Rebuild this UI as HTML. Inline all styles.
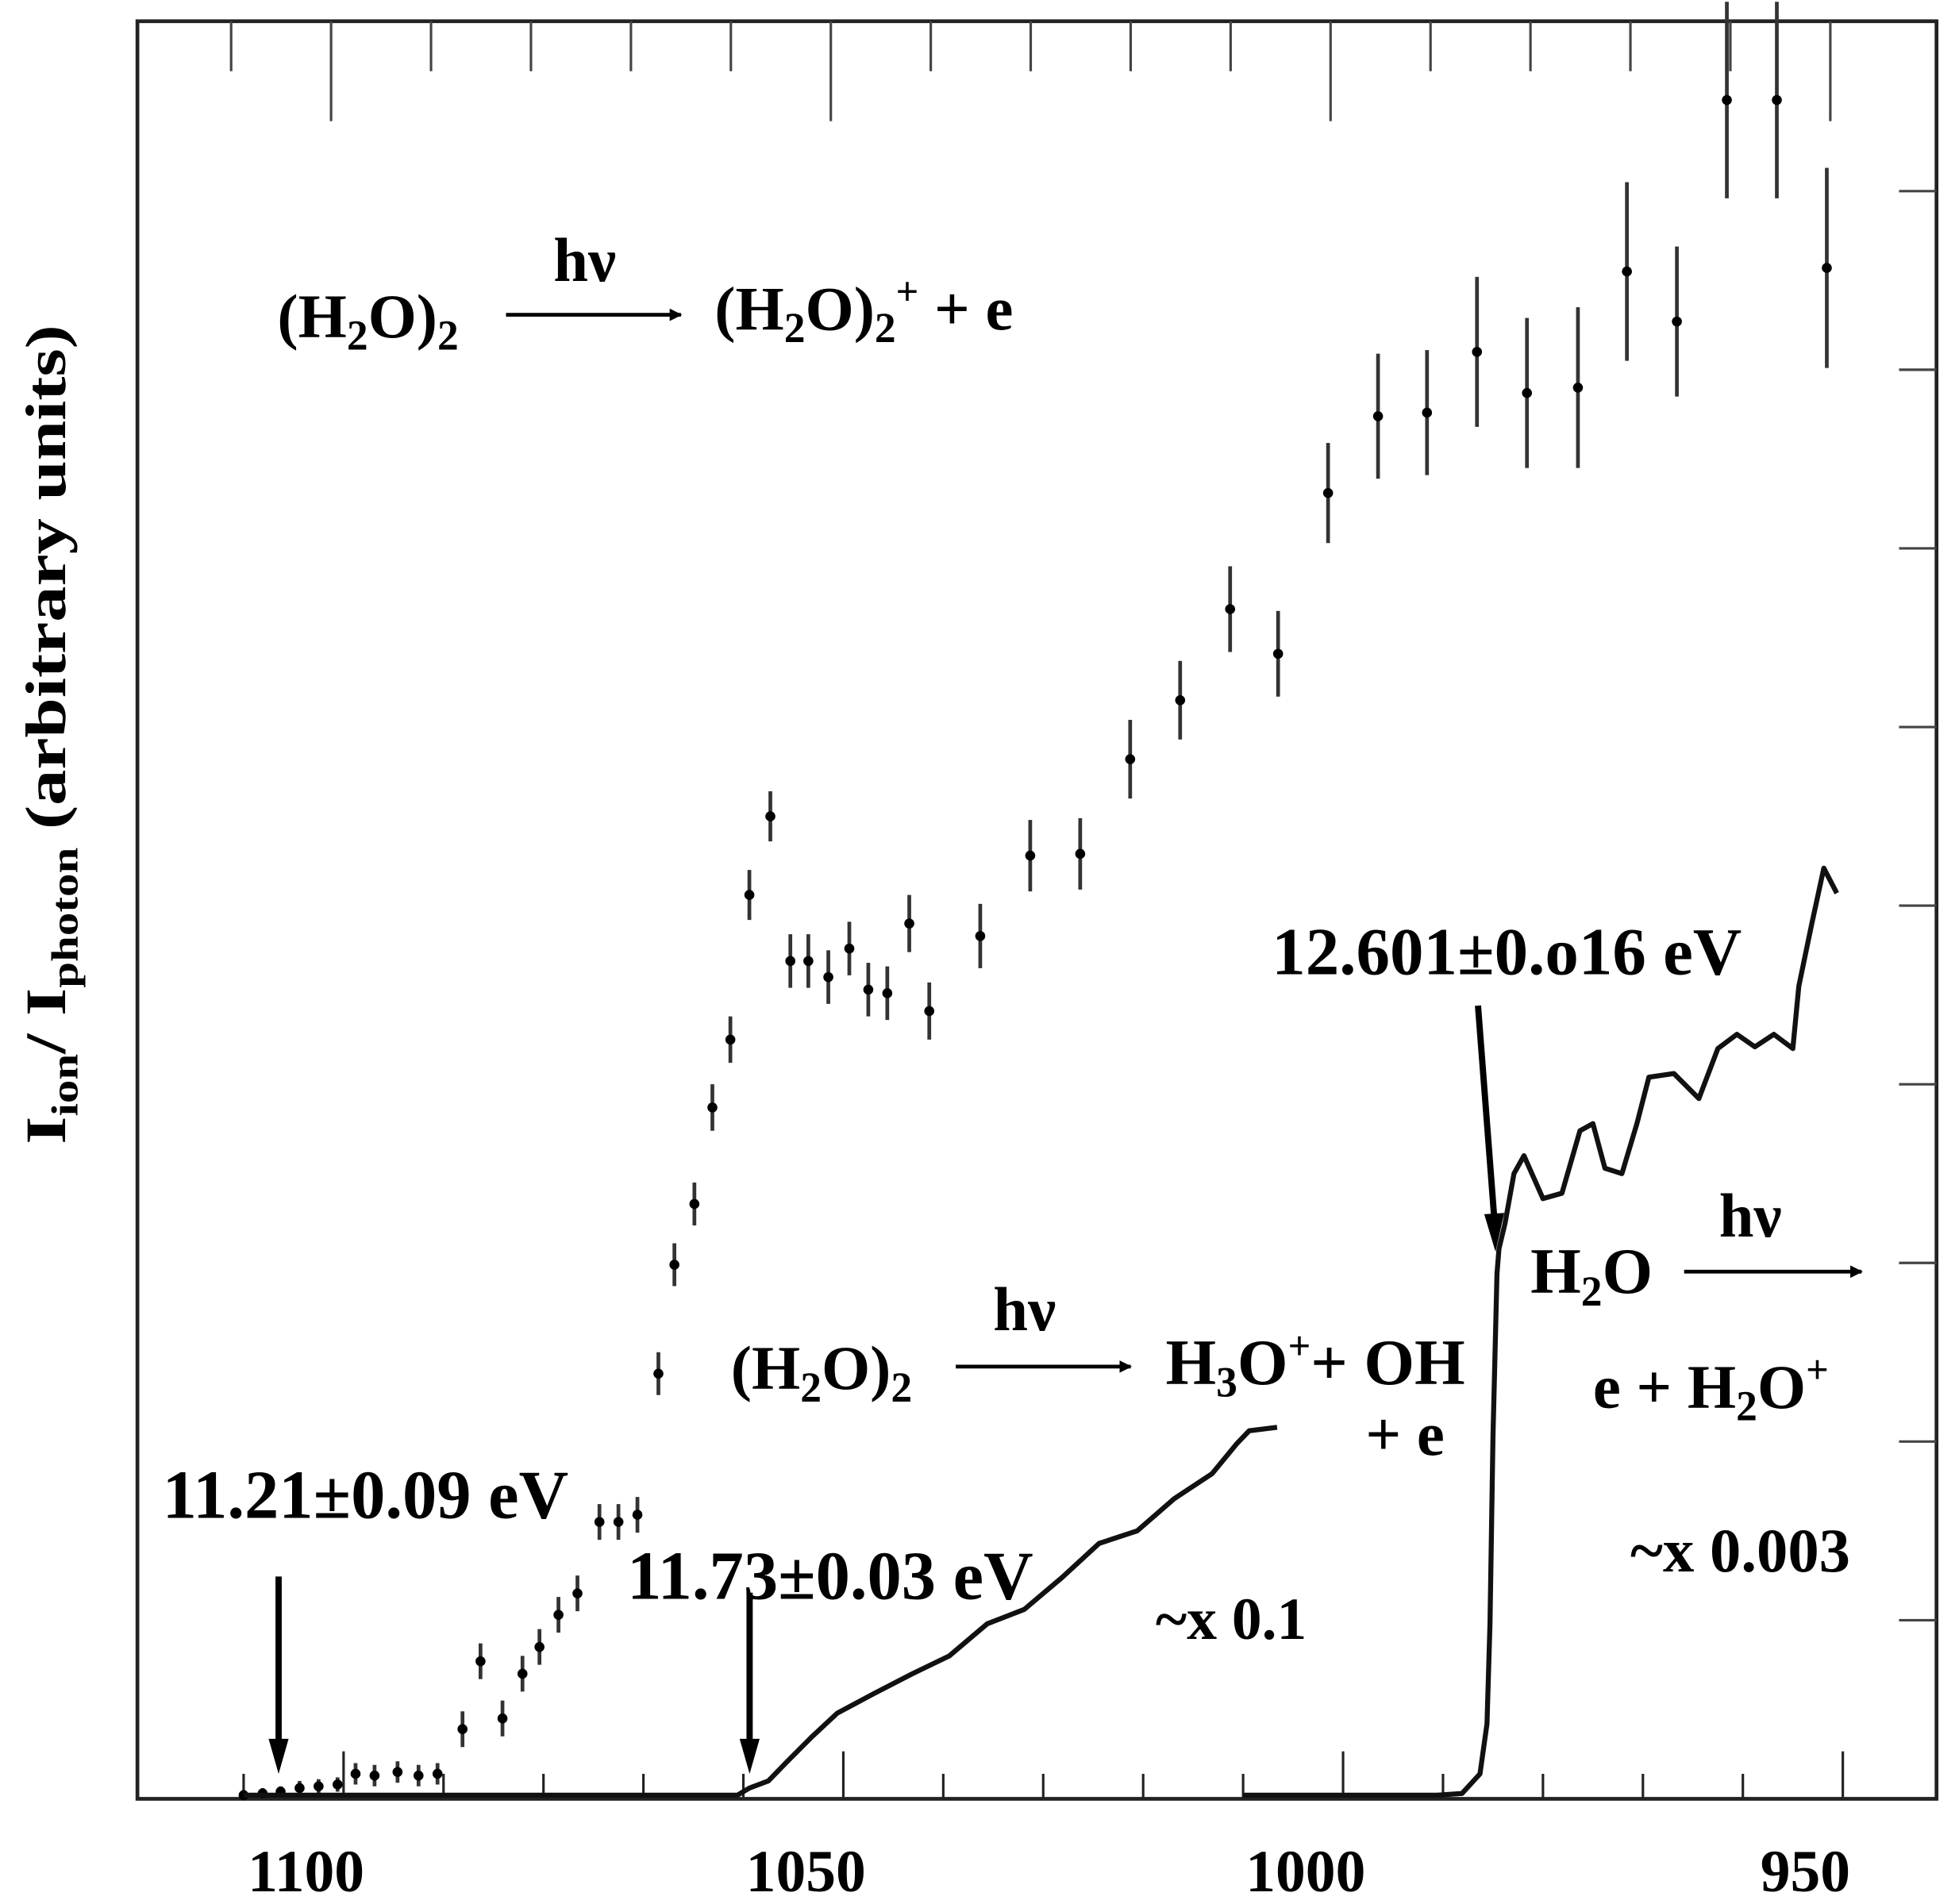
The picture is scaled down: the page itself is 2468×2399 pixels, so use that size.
<!DOCTYPE html>
<html><head><meta charset="utf-8"><style>
html,body{margin:0;padding:0;background:#fff;}
svg{display:block;}
text{font-family:"Liberation Serif",serif;font-weight:bold;fill:#000;}
</style></head><body>
<svg id="chart" width="2468" height="2399" viewBox="0 0 1568 1524.2" preserveAspectRatio="none" xmlns="http://www.w3.org/2000/svg">
<defs><marker id="ah" markerWidth="10" markerHeight="10" refX="9" refY="5" orient="auto" markerUnits="userSpaceOnUse"><path d="M0,0 L10,5 L0,10 z" fill="#000"/></marker></defs>
<g id="frame">
<rect x="110" y="17" width="1440" height="1423" fill="none" stroke="#222" stroke-width="3"/>
</g>
<g id="ticks"></g>
<g id="xlabels"></g>
<g id="series"></g>
<text transform="translate(52,588) rotate(-90) scale(1.25,1)" text-anchor="middle" font-size="46">I<tspan font-size="30" dy="10">ion</tspan><tspan dy="-10">/ I</tspan><tspan font-size="30" dy="10">photon</tspan><tspan dy="-10"> (arbitrary units)</tspan></text>
<g>
<text x="443" y="225" font-size="50">hν</text>
<line x1="405" y1="252" x2="545" y2="252" stroke="#000" stroke-width="3" marker-end="url(#ah)"/>
<text x="222" y="270" font-size="50">(H<tspan font-size="34" dy="10">2</tspan><tspan dy="-10">O)</tspan><tspan font-size="34" dy="10">2</tspan></text>
<text x="572" y="264" font-size="50">(H<tspan font-size="34" dy="10">2</tspan><tspan dy="-10">O)</tspan><tspan font-size="34" dy="10">2</tspan><tspan font-size="32" dy="-30">+</tspan><tspan dy="20">  +  e</tspan></text>
</g>
<g>
<text x="795" y="1065" font-size="50">hν</text>
<line x1="765" y1="1094" x2="905" y2="1094" stroke="#000" stroke-width="3" marker-end="url(#ah)"/>
<text x="585" y="1112" font-size="50">(H<tspan font-size="34" dy="10">2</tspan><tspan dy="-10">O)</tspan><tspan font-size="34" dy="10">2</tspan></text>
<text x="933" y="1108" font-size="52">H<tspan font-size="34" dy="10">3</tspan><tspan dy="-10">O</tspan><tspan font-size="32" dy="-20">+</tspan><tspan dy="20">+ OH</tspan></text>
<text x="1093" y="1165" font-size="50">+  e</text>
</g>
<g>
<text x="1225" y="1035" font-size="52">H<tspan font-size="34" dy="10">2</tspan><tspan dy="-10">O</tspan></text>
<text x="1376" y="990" font-size="50">hν</text>
<line x1="1348" y1="1018" x2="1490" y2="1018" stroke="#000" stroke-width="3" marker-end="url(#ah)"/>
<text x="1275" y="1127" font-size="50">e  +  H<tspan font-size="34" dy="10">2</tspan><tspan dy="-10">O</tspan><tspan font-size="32" dy="-20">+</tspan></text>
</g>
<g>
<text x="1018" y="780" font-size="54">12.601±0.o16 eV</text>
<line x1="1183" y1="805" x2="1196" y2="975" stroke="#000" stroke-width="5"/>
<path d="M1188,972 L1204,971 L1197,1002 z" fill="#000"/>
<text x="130" y="1215" font-size="55">11.21±0.09 eV</text>
<line x1="223" y1="1262" x2="223" y2="1395" stroke="#000" stroke-width="5"/>
<path d="M215,1392 L231,1392 L223,1420 z" fill="#000"/>
<text x="502" y="1280" font-size="55">11.73±0.03 eV</text>
<line x1="600" y1="1275" x2="600" y2="1395" stroke="#000" stroke-width="5"/>
<path d="M592,1392 L608,1392 L600,1420 z" fill="#000"/>
<text x="925" y="1312" font-size="48">~x 0.1</text>
<text x="1305" y="1258" font-size="50">~x 0.003</text>
</g>
<script>
const xTickValues=[1100,1050,1000,950];
const xTickLabels=["1100","1050","1000","950"];
const dimerLambda=[1110,1108.1,1106.3,1104.4,1102.5,1100.6,1098.8,1096.9,1094.6,1092.5,1090.6,1088.1,1086.3,1084.1,1082.1,1080.4,1078.5,1076.6,1074.4,1072.5,1070.6,1068.5,1066.9,1064.9,1063.1,1061.3,1059.4,1057.3,1055.3,1053.5,1051.5,1049.4,1047.5,1045.6,1043.4,1041.4,1036.3,1031.3,1026.3,1021.3,1016.3,1011.3,1006.5,1001.5,996.5,991.6,986.6,981.6,976.5,971.6,966.6,961.6,956.6,951.6];
const dimerValue=[0.02,0.03,0.04,0.06,0.07,0.08,0.14,0.13,0.15,0.13,0.14,0.39,0.77,0.45,0.70,0.85,1.03,1.15,1.55,1.55,1.59,2.38,2.99,3.33,3.87,4.25,5.06,5.50,4.69,4.69,4.60,4.76,4.53,4.51,4.90,4.41,4.83,5.28,5.29,5.82,6.15,6.66,6.41,7.31,7.74,7.76,8.10,7.87,7.90,8.55,8.27,9.51,9.51,8.57];
const dimerError=[0.03,0.03,0.03,0.04,0.04,0.04,0.06,0.06,0.06,0.06,0.06,0.1,0.1,0.1,0.1,0.1,0.1,0.1,0.1,0.1,0.1,0.12,0.12,0.12,0.13,0.13,0.14,0.14,0.15,0.15,0.15,0.15,0.15,0.15,0.16,0.16,0.18,0.2,0.2,0.22,0.22,0.24,0.24,0.28,0.35,0.35,0.42,0.42,0.45,0.5,0.42,0.55,0.55,0.56];
const h3oLambda=[1110,1060.6,1059.4,1057.5,1055.6,1053.1,1050.6,1046.9,1043.1,1039.4,1035.6,1031.9,1028.1,1024.4,1020.6,1016.9,1013.1,1010.6,1009.4,1006.6];
const h3oValue=[0.02,0.02,0.06,0.10,0.21,0.35,0.48,0.59,0.70,0.80,0.98,1.06,1.24,1.43,1.50,1.68,1.82,1.99,2.06,2.08];
const waterLambda=[1010,990.6,988.1,986.3,985.6,985.3,985,984.6,984.4,983.8,982.9,981.9,980,978.1,976.3,975,973.8,972.1,970.6,969.4,966.9,964.4,962.5,960.6,958.8,956.9,955,954.4,953.1,951.9,950.6];
const waterValue=[0.02,0.02,0.03,0.14,0.42,0.98,2.03,2.94,3.08,3.22,3.50,3.60,3.36,3.39,3.74,3.78,3.53,3.50,3.78,4.04,4.06,3.92,4.20,4.28,4.21,4.28,4.20,4.55,4.90,5.21,5.07];
const xs=l=>275+(1100-l)*8;
const ys=v=>1440-v*143;
const NS="http://www.w3.org/2000/svg";
function mk(tag,attrs,parent){const e=document.createElementNS(NS,tag);for(const k in attrs)e.setAttribute(k,attrs[k]);parent.appendChild(e);return e;}
const tk=document.getElementById('ticks');
for(let l=1110;l>=940;l-=10){const x=xs(l);if(x<112||x>1548)continue;const major=(l%50===0);
 const t=mk('line',{x1:x,y1:1440,x2:x,y2:1440-(major?38:20),stroke:'#222','stroke-width':2},tk);
 
 
 const t2=mk('line',{x1:x-10,y1:17,x2:x-10,y2:17+(major?80:40),stroke:'#444','stroke-width':2},tk);
 
 }
for(let k=1;k<=9;k++){const y=ys(k);
 const t=mk('line',{x1:1550,y1:y,x2:1520,y2:y,stroke:'#444','stroke-width':2},tk);
 
 }
const xl=document.getElementById('xlabels');
xTickValues.forEach((v,i)=>{const t=mk('text',{x:xs(v)-30,y:1514,'text-anchor':'middle','font-size':48},xl);t.textContent=xTickLabels[i];
 
 });
const sg=document.getElementById('series');
dimerLambda.forEach((l,i)=>{const x=xs(l),y=ys(dimerValue[i]),e=dimerError[i]*143;
 const b=mk('line',{x1:x,y1:y-e,x2:x,y2:y+e,stroke:'#333','stroke-width':3},sg);
 
 
 const p=mk('circle',{cx:x,cy:y,r:4,fill:'#000'},sg);
 
 });
function line(L,V,name){const d=L.map((l,i)=>(i?'L':'M')+xs(l).toFixed(1)+','+ys(V[i]).toFixed(1)).join(' ');
 const p=mk('path',{d:d,fill:'none',stroke:'#111','stroke-width':4,'stroke-linejoin':'round'},sg);
 
 }
line(h3oLambda,h3oValue,'h3o-curve');
line(waterLambda,waterValue,'water-curve');
</script>
</svg>
</body></html>
